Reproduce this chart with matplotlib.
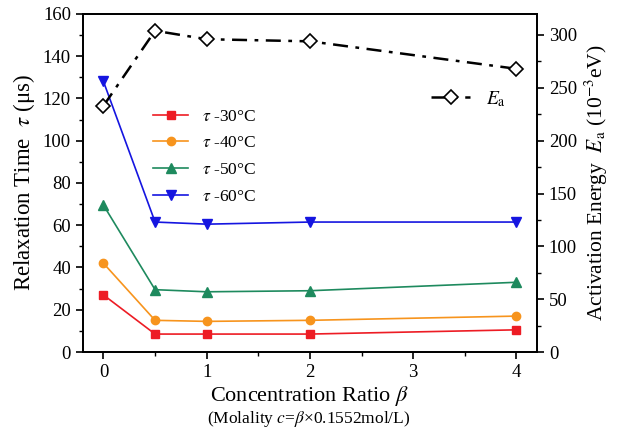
import matplotlib
matplotlib.use("Agg")
import matplotlib.pyplot as plt
from matplotlib.ticker import MultipleLocator

plt.rcParams["font.family"] = ["Liberation Serif", "DejaVu Serif"]
plt.rcParams["mathtext.fontset"] = "stix"

beta = [0, 0.5, 1, 2, 4]
tau_30 = [27, 8.5, 8.5, 8.5, 10.5]
tau_40 = [42, 15, 14.5, 15, 17]
tau_50 = [69.5, 29.5, 28.5, 29, 33]
tau_60 = [128, 61.5, 60.5, 61.5, 61.5]
ea = [233, 304, 296, 294, 268]

fig = plt.figure(figsize=(6.18, 4.33), dpi=100)
ax = fig.add_axes([0.134, 0.187, 0.735, 0.781])
ax2 = ax.twinx()

ax.plot(beta, tau_30, color="#ED1C24", marker="s", markersize=6, lw=1.2, label=r"$\tau$ -30°C")
ax.plot(beta, tau_40, color="#F7941D", marker="o", markersize=6, lw=1.2, label=r"$\tau$ -40°C")
ax.plot(beta, tau_50, color="#1E8A5E", marker="^", markersize=7, lw=1.2, label=r"$\tau$ -50°C")
ax.plot(beta, tau_60, color="#1515E0", marker="v", markersize=7, lw=1.2, label=r"$\tau$ -60°C")

ax2.plot(beta, ea, color="black", lw=1.8, dashes=(6, 3, 1.5, 3), marker="D", markersize=7,
         markerfacecolor="white", markeredgecolor="black", markeredgewidth=1.2,
         label=r"$E_{\rm a}$")

ax.set_xlim(-0.2, 4.2)
ax.set_ylim(0, 160)
ax2.set_ylim(0, 320)

ax.xaxis.set_major_locator(MultipleLocator(1))
ax.xaxis.set_minor_locator(MultipleLocator(0.5))
ax.yaxis.set_major_locator(MultipleLocator(20))
ax.yaxis.set_minor_locator(MultipleLocator(10))
ax2.yaxis.set_major_locator(MultipleLocator(50))
ax2.yaxis.set_minor_locator(MultipleLocator(25))

for a in (ax, ax2):
    a.tick_params(which="major", direction="out", length=5, width=1.2, labelsize=13.5)
    a.tick_params(which="minor", direction="out", length=3, width=1)
    for s in a.spines.values():
        s.set_linewidth(1.3)

ax.set_ylabel(r"Relaxation Time  $\tau$ (μs)", fontsize=16.5)
ax2.set_ylabel(r"Activation Energy  $E_{\rm a}$ (10$^{-3}$eV)", fontsize=15.5)

fig.text(0.5, 0.075, r"Concentration Ratio $\beta$", ha="center", fontsize=16)
fig.text(0.5, 0.022, r"(Molality $c$=$\beta$×0.1552mol/L)", ha="center", fontsize=12.5)

ax.legend(loc="upper left", bbox_to_anchor=(0.14, 0.74), frameon=False, fontsize=12.5,
          handlelength=2.0, labelspacing=0.6, borderaxespad=0)
ax2.legend(loc="upper left", bbox_to_anchor=(0.75, 0.8), frameon=False, fontsize=14,
           handlelength=2.0, borderaxespad=0)

fig.savefig("out.png", dpi=100)
